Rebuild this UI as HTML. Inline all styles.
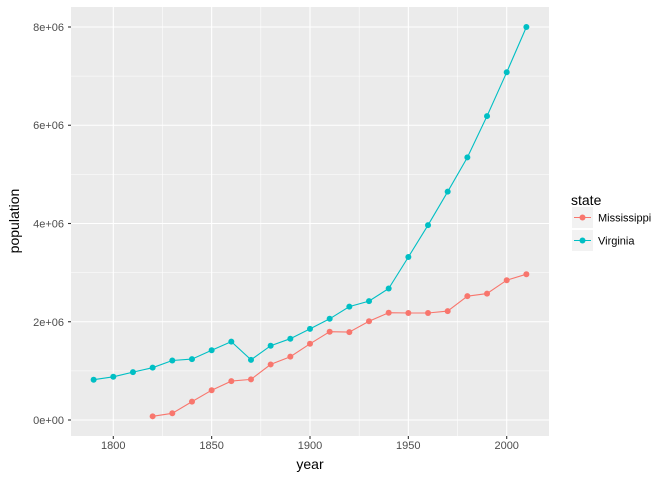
<!DOCTYPE html>
<html><head><meta charset="utf-8"><style>body{margin:0;background:#fff}svg{display:block;font-family:"Liberation Sans",sans-serif}</style></head>
<body><svg id="s" width="672" height="480" xmlns="http://www.w3.org/2000/svg">
<rect x="71" y="7" width="478" height="429" fill="#EBEBEB"/>
<g id="grid"></g>
<g id="data"></g>
<g font-size="11" fill="#4D4D4D" text-anchor="end">
<text x="64" y="424">0e+00</text><text x="64" y="326">2e+06</text><text x="64" y="227.5">4e+06</text><text x="64" y="129">6e+06</text><text x="64" y="31">8e+06</text>
</g>
<g font-size="11" fill="#4D4D4D" text-anchor="middle">
<text x="113.3" y="449">1800</text><text x="211.6" y="449">1850</text><text x="310" y="449">1900</text><text x="408.3" y="449">1950</text><text x="506.7" y="449">2000</text>
</g>
<text x="310" y="469" font-size="14" text-anchor="middle">year</text>
<text transform="translate(19,221) rotate(-90)" font-size="14" text-anchor="middle">population</text>
<text x="571" y="205" font-size="14">state</text>
<rect x="572" y="207" width="21" height="21" fill="#F2F2F2"/>
<rect x="572" y="230" width="21" height="21" fill="#F2F2F2"/>
<line x1="574" y1="217.5" x2="591" y2="217.5" stroke="#F8766D" stroke-width="1.1"/><circle cx="582.5" cy="217.5" r="3" fill="#F8766D"/>
<line x1="574" y1="240.5" x2="591" y2="240.5" stroke="#00BFC4" stroke-width="1.1"/><circle cx="582.5" cy="240.5" r="3" fill="#00BFC4"/>
<text x="598" y="221.5" font-size="11">Mississippi</text>
<text x="598" y="244.5" font-size="11">Virginia</text>
</svg>
<script>
var X=function(y){return 113.3+(y-1800)*1.967},Y=function(v){return 420-v*49.125/1e6};
var g='';
[1775,1825,1875,1925,1975].forEach(function(y){g+='<line x1="'+X(y)+'" y1="7" x2="'+X(y)+'" y2="436" stroke="#fff" stroke-width="0.55"/>'});
[1e6,3e6,5e6,7e6].forEach(function(v){g+='<line x1="71" y1="'+Y(v)+'" x2="549" y2="'+Y(v)+'" stroke="#fff" stroke-width="0.55"/>'});
[1800,1850,1900,1950,2000].forEach(function(y){g+='<line x1="'+X(y)+'" y1="7" x2="'+X(y)+'" y2="436" stroke="#fff" stroke-width="1.1"/><line x1="'+X(y)+'" y1="436" x2="'+X(y)+'" y2="439" stroke="#333" stroke-width="1.1"/>'});
[0,2e6,4e6,6e6,8e6].forEach(function(v){g+='<line x1="71" y1="'+Y(v)+'" x2="549" y2="'+Y(v)+'" stroke="#fff" stroke-width="1.1"/><line x1="68" y1="'+Y(v)+'" x2="71" y2="'+Y(v)+'" stroke="#333" stroke-width="1.1"/>'});
document.getElementById('grid').innerHTML=g;
var va=[820,880,975,1065,1211,1239,1421,1596,1225,1512,1655,1854,2061,2309,2421,2677,3318,3966,4648,5346,6187,7078,8001];
var ms=[75,137,375,606,791,827,1131,1289,1551,1797,1790,2010,2184,2179,2178,2217,2521,2573,2845,2967];
function ser(arr,start,col){var p=[],c='';arr.forEach(function(v,i){var x=X(start+10*i),y=Y(v*1000);p.push(x.toFixed(1)+','+y.toFixed(1));c+='<circle cx="'+x+'" cy="'+y+'" r="3" fill="'+col+'"/>'});
return '<polyline points="'+p.join(' ')+'" fill="none" stroke="'+col+'" stroke-width="1.1"/>'+c;}
document.getElementById('data').innerHTML=ser(ms,1820,'#F8766D')+ser(va,1790,'#00BFC4');
</script>
</body></html>
